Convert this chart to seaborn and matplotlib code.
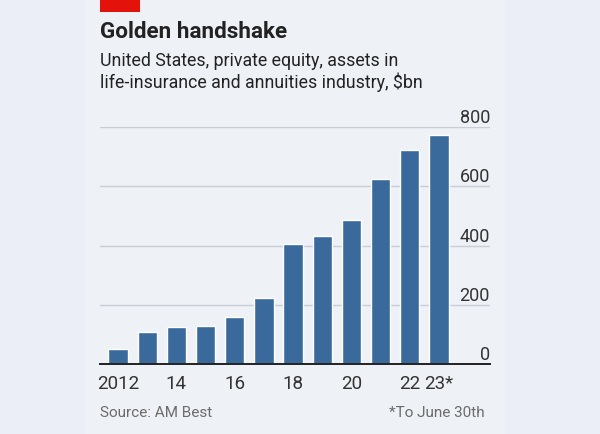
import matplotlib
matplotlib.use("Agg")
import matplotlib.pyplot as plt
from matplotlib import font_manager
from matplotlib.patches import Rectangle
import pandas as pd
import seaborn as sns

# data
years = [2012, 2013, 2014, 2015, 2016, 2017, 2018, 2019, 2020, 2021, 2022, 2023]
assets_bn = [50, 107, 126, 128, 159, 222, 405, 433, 486, 625, 723, 773]
xtick_labels = ["2012", "", "14", "", "16", "", "18", "", "20", "", "22", "23*"]
yticks = [0, 200, 400, 600, 800]

df = pd.DataFrame({"year": [str(y) for y in years], "assets": assets_bn})

sns.set_style("white")
available = {f.name for f in font_manager.fontManager.ttflist}
narrow = "Liberation Sans Narrow" if "Liberation Sans Narrow" in available else "Roboto"
plt.rcParams["font.family"] = [narrow, "DejaVu Sans"]

bg_out = "#eceef7"
bg_panel = "#eef1f6"
bar_col = "#3a6a9c"
text_col = "#222222"

fig = plt.figure(figsize=(6, 4.34), dpi=100, facecolor=bg_out)
# slightly lighter chart panel
fig.patches.append(Rectangle((85 / 600, 0), 420 / 600, 1, transform=fig.transFigure,
                             facecolor=bg_panel, edgecolor="none", zorder=-5))

ax = fig.add_axes([100 / 600, 1 - 364 / 434, 390 / 600, (364 - 127) / 434])
ax.set_zorder(3)
ax.set_facecolor("none")

sns.barplot(data=df, x="year", y="assets", color=bar_col, width=0.66,
            saturation=1, ax=ax, zorder=3)

ax.set_xlim(-0.62, 12.75)
ax.set_ylim(0, 800)
ax.set_yticks(yticks)
ax.yaxis.tick_right()
ax.tick_params(axis="y", length=0, pad=0, labelsize=13, labelcolor="#333333")
for lab in ax.get_yticklabels():
    lab.set_horizontalalignment("right")
    lab.set_verticalalignment("bottom")
ax.grid(axis="y", color="#c9cdd6", linewidth=1, zorder=0)
ax.set_axisbelow(True)

ax.set_xticks(range(len(years)))
ax.set_xticklabels(xtick_labels)
ax.tick_params(axis="x", length=5, width=1, color="#333333", pad=3,
               labelsize=13.5, labelcolor="#333333")
ax.set_xlabel("")
ax.set_ylabel("")

for s in ["top", "right", "left"]:
    ax.spines[s].set_visible(False)
ax.spines["bottom"].set_color("#222222")
ax.spines["bottom"].set_linewidth(1.4)
ax.spines["bottom"].set_zorder(5)

# header
fig.patches.append(Rectangle((100 / 600, 1 - 12 / 434), 40 / 600, 12 / 434,
                             transform=fig.transFigure, facecolor="#e3120b",
                             edgecolor="none"))
fig.text(100 / 600, 1 - 38 / 434, "Golden handshake", fontsize=16.2,
         fontweight="bold", color=text_col, family=["Roboto", "DejaVu Sans"])
fig.text(100 / 600, 1 - 66 / 434, "United States, private equity, assets in",
         fontsize=12.8, color=text_col)
fig.text(100 / 600, 1 - 88 / 434, "life-insurance and annuities industry, $bn",
         fontsize=12.8, color=text_col)

# footer
fig.text(100 / 600, 1 - 417 / 434, "Source: AM Best", fontsize=11, color="#6b6b6b")
fig.text(485 / 600, 1 - 417 / 434, "*To June 30th", fontsize=11, color="#6b6b6b",
         ha="right")

fig.savefig("out.png", dpi=100, facecolor=fig.get_facecolor())
